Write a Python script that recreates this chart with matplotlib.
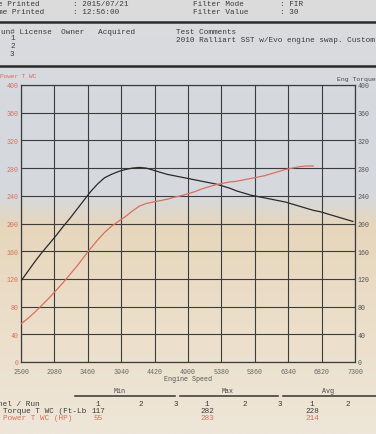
import numpy as np
import matplotlib.pyplot as plt
from matplotlib.colors import LinearSegmentedColormap

# dyno run 1
rpm = [2500, 2600, 2700, 2800, 2900, 3000, 3100, 3200, 3300, 3400,
       3500, 3600, 3700, 3800, 3900, 4000, 4100, 4200, 4300, 4400,
       4500, 4600, 4700, 4800, 4900, 5000, 5100, 5200, 5300, 5400,
       5500, 5600, 5700, 5800, 5900, 6000, 6100, 6200, 6300, 6400,
       6500, 6600, 6700, 6800, 6900, 7000, 7100, 7200, 7270]
torque = [117, 131, 145, 158, 170, 182, 195, 207, 220, 233,
          246, 257, 266, 271, 275, 278, 280, 281, 280, 277,
          274, 271, 269, 267, 265, 263, 261, 259, 257, 254,
          251, 247, 244, 241, 239, 237, 235, 233, 231, 228,
          225, 222, 219, 217, 214, 211, 208, 205, 203]
power_rpm = rpm[:43]
power = [55, 63, 72, 82, 92, 103, 114, 126, 138, 151,
         164, 176, 187, 196, 203, 210, 218, 225, 229, 231,
         233, 235, 238, 240, 243, 246, 250, 253, 256, 258,
         260, 261, 263, 265, 267, 269, 272, 275, 278, 280,
         282, 283, 283]

x_ticks = [2500, 2980, 3460, 3940, 4420, 4900, 5380, 5860, 6340, 6820, 7300]
y_ticks = list(range(0, 401, 40))

summary_rows = ["Torque T WC (Ft-Lb", "Power T WC (HP)"]
summary_min = [117, 55]
summary_max = [282, 283]
summary_avg = [228, 214]

W, H = 376, 435
RED = "#d8705e"
GRID = "#3c3c3c"
MONO = "Liberation Mono"


def px(x, y):
    return x / W, 1 - y / H


fig = plt.figure(figsize=(W / 100, H / 100), dpi=100)

# paper background: bluish grey at the top, warm beige lower down
bg = fig.add_axes([0, 0, 1, 1], zorder=-5)
paper = LinearSegmentedColormap.from_list(
    "paper", [(0.0, "#dcdcdc"), (0.25, "#d5d9df"), (0.45, "#d6d9de"),
              (0.52, "#e6d6bc"), (0.75, "#ecdfca"), (1.0, "#eee6d8")])
grad = np.linspace(0, 1, 200).reshape(-1, 1)
bg.imshow(grad, aspect="auto", cmap=paper, extent=[0, 1, 0, 1])
bg.axis("off")

ax = fig.add_axes([21 / W, 1 - 363 / H, 334 / W, 277 / H])
ax.set_facecolor("none")
ax.plot(rpm, torque, color="#2a2a2a", lw=0.9, zorder=3)
ax.plot(power_rpm, power, color=RED, lw=0.9, zorder=3)
ax.set_xlim(2500, 7300)
ax.set_ylim(0, 400)
ax.set_xticks(x_ticks)
ax.set_yticks(y_ticks)
ax.grid(True, color=GRID, lw=0.8)
ax.tick_params(length=0, pad=2, labelsize=4.8)
ax.tick_params(axis="x", pad=4)
for lab in ax.get_xticklabels():
    lab.set_fontfamily(MONO)
    lab.set_color("#666666")
for lab in ax.get_yticklabels():
    lab.set_fontfamily(MONO)
    lab.set_color(RED)
for s in ax.spines.values():
    s.set_color(GRID)
    s.set_linewidth(0.9)

ax2 = ax.twinx()
ax2.set_ylim(0, 400)
ax2.set_yticks(y_ticks)
ax2.tick_params(length=0, pad=2, labelsize=4.8)
for lab in ax2.get_yticklabels():
    lab.set_fontfamily(MONO)
    lab.set_color("#555555")
for s in ax2.spines.values():
    s.set_visible(False)

ax.set_xlabel("Engine Speed", fontsize=4.8, fontfamily=MONO, color="#555555", labelpad=0)

fs = 5.5
kw = dict(fontfamily=MONO, fontsize=fs, color="#3a3a3a", va="center")

# header
fig.text(*px(-2, 5), "e Printed", **kw)
fig.text(*px(73, 5), ": 2015/07/21", **kw)
fig.text(*px(-2, 13), "me Printed", **kw)
fig.text(*px(73, 13), ": 12:56:00", **kw)
fig.text(*px(193, 5), "Filter Mode", **kw)
fig.text(*px(280, 5), ": FIR", **kw)
fig.text(*px(193, 13), "Filter Value", **kw)
fig.text(*px(280, 13), ": 30", **kw)
fig.add_artist(plt.Line2D([0, 1], [1 - 23 / H] * 2, color="#2a2a2a", lw=1.8))

fig.text(*px(1, 33), "un# License  Owner   Acquired", **kw)
fig.text(*px(176, 33), "Test Comments", **kw)
fig.text(*px(176, 41), "2010 Ralliart SST w/Evo engine swap. Custom", **kw)
for i, yy in enumerate([39, 47, 55]):
    fig.text(*px(10, yy), str(i + 1), **kw)
fig.add_artist(plt.Line2D([0, 1], [1 - 67 / H] * 2, color="#2a2a2a", lw=1.8))

fig.text(*px(0, 77), "Power T WC", fontfamily=MONO, fontsize=4.4, color=RED, va="center")
fig.text(*px(376, 80), "Eng Torque", fontfamily=MONO, fontsize=4.6, color="#444444",
         va="center", ha="right")

# min / max / avg summary table
for label, x0, x1, xc in [("Min", 75, 175, 120), ("Max", 180, 278, 228), ("Avg", 283, 376, 328)]:
    fig.text(*px(xc, 392), label, fontfamily=MONO, fontsize=4.8, color="#444444",
             va="center", ha="center")
    fig.add_artist(plt.Line2D([x0 / W, x1 / W], [1 - 397 / H] * 2, color="#444444", lw=1.2))

fig.text(*px(-2, 405), "nel / Run", **kw)
for xc, run in [(98, 1), (141, 2), (176, 3), (207, 1), (245, 2), (280, 3), (312, 1), (348, 2)]:
    fig.text(*px(xc, 405), str(run), ha="center", **kw)

row_y = [412, 419]
row_col = ["#3a3a3a", RED]
for name, mn, mx, av, yy, c in zip(summary_rows, summary_min, summary_max, summary_avg, row_y, row_col):
    fig.text(*px(3, yy), name, fontfamily=MONO, fontsize=fs, color=c, va="center")
    for xc, v in [(98, mn), (207, mx), (312, av)]:
        fig.text(*px(xc, yy), str(v), fontfamily=MONO, fontsize=fs, color=c,
                 va="center", ha="center")

fig.savefig("out.png", dpi=100)
